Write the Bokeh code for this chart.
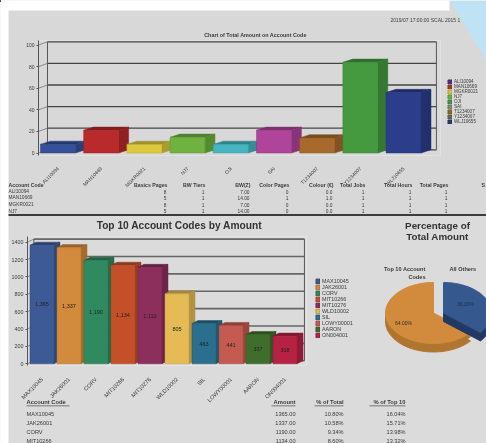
import numpy as np
from bokeh.core.properties import value
from bokeh.embed import file_html
from bokeh.layouts import column
from bokeh.models import ColumnDataSource, FixedTicker, Legend, LegendItem, Range1d
from bokeh.plotting import figure
from bokeh.resources import INLINE

FONT = "Liberation Sans"
PAGE = "#d9d8d8"
PAGE2 = "#dcdbdb"
INK = "#3a3a3a"
SOFT = {"filter": "blur(0.6px)"}

# ---- data
codes_a = ["ALI10094", "MAN10669", "MGKR0021", "NJ7", "OJI", "SAI", "T1234007", "Y1234007", "WLJ10655"]
vals_a = [8, 21, 8, 14.5, 8, 21, 14, 84, 56]
cols_a = ["#36509a", "#b92a2c", "#dcc93c", "#6fb23f", "#45b6c0", "#b0439a", "#a86a2c", "#459a40", "#2c3d8c"]
leg_cols_a = ["#5b2d90", "#a0402a", "#d8c83c", "#6eb43c", "#3f9a5a", "#8a8a6a", "#8a6a3a", "#6a6a50", "#2a3a70"]
ticks_a = [0, 20, 40, 60, 80, 100]

headers_a = ["Basics Pages", "BW Tiers", "BW(Z)", "Color Pages", "Colour (€)", "Total Jobs", "Total Hours", "Total Pages"]
rows_a = [["8", "1", "7.00", "0", "0.0", "1", "1", "1"],
          ["5", "1", "14.00", "1", "1.0", "1", "1", "1"],
          ["8", "1", "7.00", "0", "0.0", "1", "1", "1"],
          ["5", "1", "14.00", "0", "0.0", "1", "1", "1"]]

codes_b = ["MAX10045", "JAK26001", "CORV", "MIT10266", "MIT10276", "WLD10002", "SIL", "LOWY00001", "AARON", "ON004001"]
vals_b = [1365, 1337, 1190, 1134, 1110, 805, 463, 441, 337, 318]
cols_b = ["#3d5a96", "#d28a3c", "#2f8a5f", "#c4502a", "#8c2f5c", "#e5bb55", "#2a6f8e", "#c45a50", "#3f6e2c", "#b72244"]
labs_b = ["1,365", "1,337", "1,190", "1,134", "1,110", "805", "463", "441", "337", "318"]
ticks_b = [0, 200, 400, 600, 800, 1000, 1200, 1400]

table_b = [("MAX10045", "1365.00", "10.80%", "16.04%"),
           ("JAK26001", "1337.00", "10.58%", "15.71%"),
           ("CORV", "1190.00", "9.34%", "13.98%"),
           ("MIT10266", "1134.00", "8.60%", "13.32%")]

pie_vals = [64.0, 36.0]
pie_cols = ["#d28a3c", "#35588f"]
pie_rims = ["#b0752f", "#223a63"]
pie_labs = ["64.00%", "36.00%"]


def shade(hexcol, f):
    r, g, b = (int(hexcol[i:i + 2], 16) for i in (1, 3, 5))
    return "#%02x%02x%02x" % (int(r * f), int(g * f), int(b * f))


def chart(w, h, xr, yr, ml, mr, mt, mb, bg):
    p = figure(width=w, height=h, x_range=Range1d(*xr), y_range=Range1d(*yr), output_backend="svg",
               toolbar_location=None, min_border_left=ml, min_border_right=mr, min_border_top=mt,
               min_border_bottom=mb, background_fill_color=bg, border_fill_color=bg, outline_line_alpha=0,
               frame_align=False, styles=SOFT)
    p.grid.visible = False
    return p


def style_axes(p, names, yticks, fs_x, fs_y, standoff):
    ax = p.xaxis[0]
    ax.ticker = FixedTicker(ticks=list(range(len(names))))
    ax.major_label_overrides = {i: n for i, n in enumerate(names)}
    ax.major_label_orientation = 0.785
    ax.major_label_text_font = FONT
    ax.major_label_text_font_size = fs_x
    ax.major_label_text_color = INK
    ax.major_label_standoff = standoff
    ax.axis_line_alpha = 0
    ax.major_tick_line_alpha = 0
    ax.minor_tick_line_alpha = 0
    ay = p.yaxis[0]
    ay.ticker = FixedTicker(ticks=yticks)
    ay.major_label_text_font = FONT
    ay.major_label_text_font_size = fs_y
    ay.major_label_text_color = INK
    ay.major_label_standoff = 2
    ay.axis_line_color = "#555555"
    ay.major_tick_line_color = "#555555"
    ay.major_tick_out = 2
    ay.major_tick_in = 0
    ay.minor_tick_line_alpha = 0


def walls(p, xl, xb, xr, top, dy, ticks, color, lw):
    p.segment(x0=[xb] * len(ticks), y0=[t + dy for t in ticks], x1=[xr] * len(ticks), y1=[t + dy for t in ticks],
              line_color=color, line_width=lw)
    p.segment(x0=[xl] * len(ticks), y0=ticks, x1=[xb] * len(ticks), y1=[t + dy for t in ticks],
              line_color="#777777", line_width=0.8)
    p.segment(x0=[xb, xr], y0=[0 + dy, 0 + dy], x1=[xb, xr], y1=[top + dy, top + dy], line_color="#555555", line_width=1)


def bars3d(p, vals, cols, width, dx, dy):
    for i, (v, c) in enumerate(zip(vals, cols)):
        l, r = i - width / 2, i + width / 2
        p.patch([l, l + dx, r + dx, r], [v, v + dy, v + dy, v], fill_color=shade(c, 0.72), line_color=shade(c, 0.72), line_width=0.5)
        p.patch([r, r + dx, r + dx, r], [0, dy, v + dy, v], fill_color=shade(c, 0.78), line_color=shade(c, 0.78), line_width=0.5)
        p.vbar(x=[i], top=[v], bottom=[0], width=width, fill_color=c, line_color=shade(c, 0.85), line_width=0.5)


# ---- top chart: page pixels 0..486 x 0..215
A = chart(486, 215, (-0.451, 8.855), (-2.3, 104.2), 38, 46, 40, 60, PAGE)
walls(A, -0.451, -0.243, 8.76, 100, 3, ticks_a, "#444444", 1.3)
bars3d(A, vals_a, cols_a, 0.81, 0.23, 3)
style_axes(A, codes_a, ticks_a, "5px", "5px", 6)

# ---- lower chart: page pixels 0..486 x 215..443
B1 = chart(486, 228, (-0.537, 9.796), (-19.6, 1465), 27, 180, 21, 78, PAGE2)
walls(B1, -0.537, -0.3, 9.72, 1400, 35, ticks_b, "#666666", 1.6)
bars3d(B1, vals_b, cols_b, 0.89, 0.222, 35)
style_axes(B1, codes_b, ticks_b, "5.6px", "5.4px", 7)
src = ColumnDataSource(dict(x=list(range(len(vals_b))), y=[v / 2 for v in vals_b], t=labs_b))
B1.text(x="x", y="y", text="t", source=src, text_font=value(FONT), text_font_size="5.5px", text_color="#222222",
        text_align="center", text_baseline="middle")

# ---- page overlay, in page pixels: paper edges, texts, legends, pie
O = figure(width=486, height=443, x_range=Range1d(0, 486), y_range=Range1d(443, 0), output_backend="svg",
           toolbar_location=None, min_border_left=0, min_border_right=0, min_border_top=0, min_border_bottom=0,
           background_fill_alpha=0, border_fill_alpha=0, outline_line_alpha=0, frame_align=False,
           styles={"position": "absolute", "left": "0px", "top": "0px", **SOFT})
O.xaxis.visible = False
O.yaxis.visible = False
O.grid.visible = False


def txt(x, y, s, size=5.5, align="left", bold=False, color=INK):
    O.text(x=[x], y=[y], text=[s], text_font=value(FONT), text_font_size=f"{size}px", text_align=align,
           text_baseline="middle", text_color=color, text_font_style="bold" if bold else "normal")


def box(l, r, t, b, color):
    O.quad(left=[l], right=[r], top=[t], bottom=[b], fill_color=color, line_alpha=0)


box(0, 449, 0, 10, "#ffffff")
box(0, 8, 0, 443, "#ffffff")
O.patch([449, 486, 486], [0, 0, 60], fill_color="#bfe2f5", line_alpha=0)

txt(460, 19, "2019/07 17:00:00 SCAL 2015 1", 5, "right")
txt(255, 34, "Chart of Total Amount on Account Code", 5.4, "center", True)

hdr_x = [167, 205, 250, 289, 333, 365, 412, 448]
txt(8, 184.5, "Account Code", 5.2, "left", True)
for hx, h in zip(hdr_x, headers_a):
    txt(hx, 184.5, h, 5.2, "right", True)
txt(481, 184.5, "S", 5.2, "left", True)
for ry, code, vals in zip([191.3, 197.3, 204, 210.7], codes_a, rows_a):
    txt(8, ry, code, 4.8)
    for hx, v in zip(hdr_x, vals):
        txt(hx - 1, ry, v, 4.8, "right")
box(8, 486, 213.5, 215.5, "#3c3c3c")

txt(179, 224.5, "Top 10 Account Codes by Amount", 10.2, "center", True, "#333333")
txt(26, 401.5, "Account Code", 5.8, "left", True)
box(26, 69, 405, 405.7, "#555555")
txt(295, 401.5, "Amount", 5.8, "right", True)
box(271, 295, 405, 405.7, "#555555")
txt(343, 401.5, "% of Total", 5.8, "right", True)
box(314, 343, 405, 405.7, "#555555")
txt(405, 401.5, "% of Top 10", 5.8, "right", True)
box(369, 405, 405, 405.7, "#555555")
for ry, (code, amt, pt, pt10) in zip([413, 422, 431, 440], table_b):
    txt(26, ry, code, 5.6)
    txt(295, ry, amt, 5.6, "right")
    txt(343, ry, pt, 5.6, "right")
    txt(405, ry, pt10, 5.6, "right")


def make_legend(names, cols, x, y, row_h, fs):
    items = []
    for n, c in zip(names, cols):
        r = O.vbar(x=[-50], top=[0], bottom=[1], width=0.1, fill_color=c, line_color=shade(c, 0.8))
        items.append(LegendItem(label=n, renderers=[r]))
    O.add_layout(Legend(items=items, location=(x, y), orientation="vertical", background_fill_alpha=0,
                        border_line_alpha=0, padding=0, margin=0, spacing=0, label_height=row_h, glyph_height=row_h,
                        glyph_width=5, label_standoff=2, label_text_font=FONT, label_text_font_size=fs,
                        label_text_color=INK, label_text_line_height=1.0))


make_legend(codes_a, leg_cols_a, 447, 443 - 124, 5, "4.6px")
make_legend(codes_b, cols_b, 315, 443 - 338, 6, "5.4px")

# pie
CX, CY, RX, RY = 433.0, 312.5, 48.0, 30.5
THICK = 8.5
a0 = np.pi / 2
for v, col, rim, off in zip(pie_vals, pie_cols, pie_rims, [0.0, 10.0]):
    a1 = a0 + v / sum(pie_vals) * 2 * np.pi
    th = np.linspace(a0, a1, 90)
    xs = np.r_[CX + off, CX + off + RX * np.cos(th)]
    ys = np.r_[CY, CY - RY * np.sin(th)]
    O.patch(xs, ys + THICK, fill_color=rim, line_color=rim)
    O.patch(xs, ys + THICK / 2, fill_color=rim, line_color=rim)
    O.patch(xs, ys, fill_color=col, line_color=col)
    a0 = a1

txt(437, 224.5, "Percentage of", 9.8, "center", True, "#333333")
txt(437, 236, "Total Amount", 9.8, "center", True, "#333333")
txt(425, 268, "Top 10 Account", 5.6, "right", True)
txt(425, 276, "Codes", 5.6, "right", True)
txt(449, 268, "All Others", 5.6, "left", True)
txt(403, 322, pie_labs[0], 5, "center", False, "#333333")
txt(465, 303, pie_labs[1], 5, "center", False, "#1e2f50")

root = column(A, B1, O, spacing=0, styles={"position": "fixed", "left": "0px", "top": "0px"})
open("out.html", "w").write(file_html(root, INLINE))
